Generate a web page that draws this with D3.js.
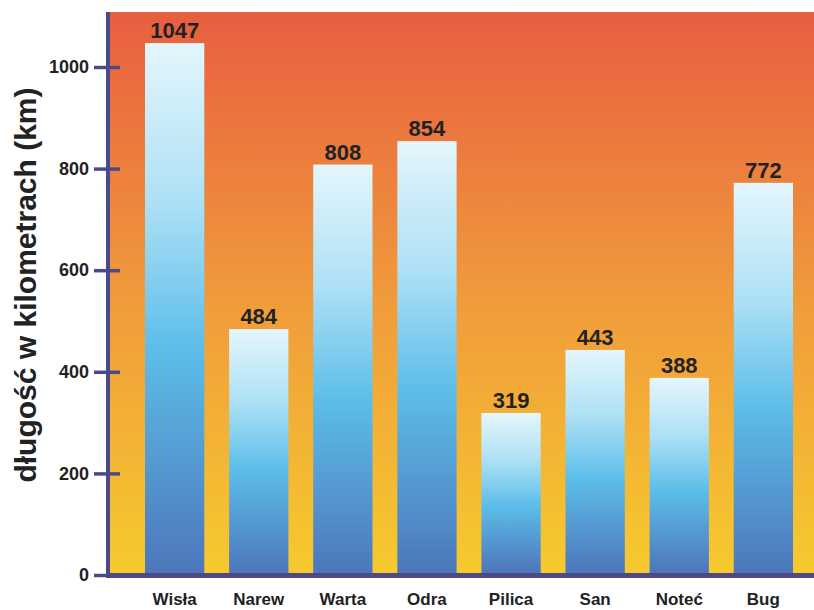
<!DOCTYPE html>
<html>
<head>
<meta charset="utf-8">
<script src="https://cdn.jsdelivr.net/npm/d3@7"></script>
<style>
  body { margin: 0; background: #fff; }
  text { font-family: "Liberation Sans", Arial, sans-serif; font-weight: bold; }
</style>
</head>
<body>
<svg width="814" height="610"></svg>
<script>
var rivers = ["Wisła", "Narew", "Warta", "Odra", "Pilica", "San", "Noteć", "Bug"];
var lengths = [1047, 484, 808, 854, 319, 443, 388, 772];
var yTicks = [0, 200, 400, 600, 800, 1000];

var svg = d3.select("svg");
var plotLeft = 108, plotTop = 12, plotBottom = 575, plotRight = 830;
var axisColor = "#4b4a88";

var x = d3.scaleBand()
    .domain(rivers)
    .range([plotLeft, plotRight])
    .paddingInner(0.295)
    .paddingOuter(0.44);

var y = d3.scaleLinear()
    .domain([0, 1000])
    .range([plotBottom, 67]);

var defs = svg.append("defs");

var bg = defs.append("linearGradient")
    .attr("id", "bg")
    .attr("x1", 0).attr("y1", 0).attr("x2", 0).attr("y2", 1);
bg.append("stop").attr("offset", "0%").attr("stop-color", "#e85e40");
bg.append("stop").attr("offset", "50%").attr("stop-color", "#f09a3c");
bg.append("stop").attr("offset", "100%").attr("stop-color", "#f6ca2e");

var bar = defs.append("linearGradient")
    .attr("id", "bar")
    .attr("x1", 0).attr("y1", 0).attr("x2", 0).attr("y2", 1);
bar.append("stop").attr("offset", "0%").attr("stop-color", "#e4f6fc");
bar.append("stop").attr("offset", "30%").attr("stop-color", "#ade0f5");
bar.append("stop").attr("offset", "58%").attr("stop-color", "#5cbde9");
bar.append("stop").attr("offset", "100%").attr("stop-color", "#4d76bb");

// background of the plot
svg.append("rect")
    .attr("x", plotLeft)
    .attr("y", plotTop)
    .attr("width", 814 - plotLeft)
    .attr("height", plotBottom - plotTop)
    .style("fill", "url(#bg)");

svg.selectAll(".bar")
    .data(lengths)
    .enter()
    .append("rect")
    .attr("class", "bar")
    .attr("x", function(d, i) { return x(rivers[i]); })
    .attr("y", function(d) { return y(d); })
    .attr("width", x.bandwidth())
    .attr("height", function(d) { return plotBottom - 2 - y(d); })
    .style("fill", "url(#bar)");

svg.selectAll(".val")
    .data(lengths)
    .enter()
    .append("text")
    .attr("class", "val")
    .attr("x", function(d, i) { return x(rivers[i]) + x.bandwidth() / 2; })
    .attr("y", function(d) { return y(d) - 5; })
    .attr("text-anchor", "middle")
    .style("font-size", "22px")
    .style("fill", "#222")
    .text(function(d) { return d; });

// y axis
var yAxis = svg.append("g")
    .attr("transform", "translate(" + plotLeft + ",0)")
    .call(d3.axisLeft(y).tickValues(yTicks).tickFormat(d3.format("d")).tickSize(0).tickPadding(19));
yAxis.select(".domain").remove();
yAxis.selectAll("text")
    .style("font-size", "18px")
    .style("fill", "#222");
yAxis.selectAll(".tick")
    .append("line")
    .attr("x1", -14).attr("x2", 12)
    .style("stroke", axisColor)
    .style("stroke-width", 3.5);

svg.append("line")
    .attr("x1", plotLeft).attr("x2", plotLeft)
    .attr("y1", plotTop).attr("y2", plotBottom + 2)
    .style("stroke", axisColor)
    .style("stroke-width", 4);

// x axis
svg.append("line")
    .attr("x1", plotLeft - 2).attr("x2", 814)
    .attr("y1", plotBottom + 0.5).attr("y2", plotBottom + 0.5)
    .style("stroke", axisColor)
    .style("stroke-width", 5);

var xAxis = svg.append("g")
    .attr("transform", "translate(0," + plotBottom + ")")
    .call(d3.axisBottom(x).tickSize(0).tickPadding(18));
xAxis.select(".domain").remove();
xAxis.selectAll("text")
    .style("font-size", "17px")
    .style("fill", "#222");

svg.append("text")
    .attr("transform", "translate(36,285) rotate(-90)")
    .attr("text-anchor", "middle")
    .style("font-size", "30px")
    .style("fill", "#222")
    .text("długość w kilometrach (km)");
</script>
</body>
</html>
